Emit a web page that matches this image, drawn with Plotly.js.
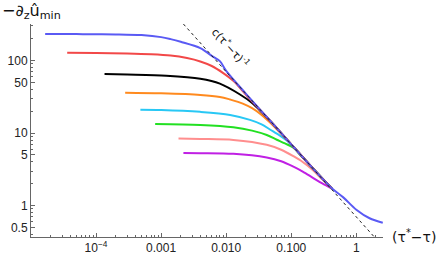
<!DOCTYPE html>
<html><head><meta charset="utf-8">
<script src="https://cdn.plot.ly/plotly-3.0.1.min.js"></script>
<style>html,body{margin:0;padding:0;background:#fff}#chart{width:436px;height:257px}</style>
</head><body><div id="chart"></div><script>
// data (x = tau* - tau, y = -d_z u_min)
const tauBlue=[1.65e-5,5e-5,1e-4,2e-4,5e-4,1e-3,1.4e-3,2e-3,4e-3,6e-3,8e-3,0.01,0.02,0.05,0.1,0.2,0.42,0.63,1.0,1.6,2.55];
const valBlue=[231,231,230,229,224,210,197,181,148,116,98,72,35,14,7,3.5,1.74,1.3,0.88,0.67,0.58];
const tauRed=[3.6e-5,1e-4,3e-4,7e-4,1.4e-3,2.5e-3,4e-3,6e-3,9e-3,0.013,0.02,0.03,0.05,0.1,0.2,0.42];
const valRed=[128,127,125,122,117,108,97,84,67,52,34,23,14,7,3.5,1.72];
const tauBlack=[1.35e-4,3e-4,1.2e-3,4e-3,8e-3,0.0163,0.025,0.035,0.05,0.1,0.2,0.42];
const valBlack=[65,64,61.6,56,48,34,26,19.5,14,7,3.5,1.72];
const tauOrange=[2.8e-4,1e-3,4e-3,8e-3,0.0115,0.018,0.025,0.035,0.045,0.06,0.08,0.1,0.2,0.42];
const valOrange=[36,35.3,33.6,31.5,29,25.5,22,17.8,14.6,11.3,8.7,7,3.5,1.72];
const tauCyan=[4.8e-4,1e-3,4e-3,0.0115,0.0232,0.035,0.047,0.067,0.085,0.1,0.2,0.42];
const valCyan=[21,20.8,19.6,17.8,15.2,13.2,11.2,9.2,7.9,6.9,3.5,1.72];
const tauGreen=[8.1e-4,4e-3,0.0129,0.025,0.042,0.06,0.08,0.108,0.135,0.2,0.42];
const valGreen=[13.3,12.9,12.0,10.8,9.4,8.1,7.2,6.3,5.1,3.5,1.72];
const tauSalmon=[1.85e-3,4e-3,0.0129,0.042,0.07,0.108,0.15,0.218,0.3,0.42];
const valSalmon=[8.4,8.3,8.05,6.9,5.9,4.8,4.0,3.05,2.3,1.72];
const tauPurple=[2.2e-3,4e-3,0.0129,0.042,0.07,0.108,0.15,0.218,0.3,0.42];
const valPurple=[5.3,5.28,5.17,4.6,4.1,3.45,2.95,2.4,2.02,1.72];
const tauAsym=[0.0022,2.3];
const valAsym=[318,0.304];
const xTickVals=[1e-4,1e-3,1e-2,1e-1,1];
const xTickText=['10<sup>−4</sup>','0.001','0.010','0.100','1'];
const yTickVals=[0.5,1,5,10,50,100];
const yTickText=['0.5','1','5','10','50','100'];

const colors={blue:'#5A5AF4',red:'#F24848',black:'#000000',orange:'#FF8A1E',cyan:'#28C8F5',green:'#22E022',salmon:'#FF8E8E',purple:'#C020E4'};
function ln(x,y,c){return {x:x,y:y,type:'scatter',mode:'lines',line:{color:c,width:2,shape:'spline',smoothing:0.9},hoverinfo:'skip'};}
const traces=[
 ln(tauPurple,valPurple,colors.purple),
 ln(tauSalmon,valSalmon,colors.salmon),
 ln(tauGreen,valGreen,colors.green),
 ln(tauCyan,valCyan,colors.cyan),
 ln(tauOrange,valOrange,colors.orange),
 ln(tauBlack,valBlack,colors.black),
 ln(tauRed,valRed,colors.red),
 ln(tauBlue,valBlue,colors.blue),
 {x:tauAsym,y:valAsym,type:'scatter',mode:'lines',line:{color:'#222',width:1,dash:'dot'},hoverinfo:'skip'}
];
function minorVals(lo,hi){const a=[];for(let e=lo;e<=hi;e++){for(let m=2;m<=9;m++)a.push(m*Math.pow(10,e));}return a;}
const tickFont={family:'Liberation Sans, Arial, sans-serif',size:12,color:'#222'};
const layout={
 width:436,height:257,showlegend:false,
 margin:{l:31,r:53,t:24,b:20},
 paper_bgcolor:'#fff',plot_bgcolor:'#fff',
 xaxis:{type:'log',range:[-5,0.41],showgrid:false,zeroline:false,showline:true,linecolor:'#666',linewidth:1,
  ticks:'inside',ticklen:4,tickcolor:'#666',tickvals:xTickVals,ticktext:xTickText,tickfont:tickFont,
  minor:{tickvals:minorVals(-5,0),ticklen:2,tickcolor:'#666',ticks:'inside',showgrid:false}},
 yaxis:{type:'log',range:[-0.432,2.503],showgrid:false,zeroline:false,showline:true,linecolor:'#666',linewidth:1,
  ticks:'inside',ticklen:4,tickcolor:'#666',tickvals:yTickVals,ticktext:yTickText,tickfont:tickFont,
  minor:{tickvals:minorVals(-1,2),ticklen:2,tickcolor:'#666',ticks:'inside',showgrid:false}},
 annotations:[
  {xref:'paper',yref:'paper',x:1,y:0,xanchor:'left',yanchor:'middle',xshift:7,yshift:1,showarrow:false,
   text:'(τ<sup>*</sup>−τ)',font:{family:'DejaVu Sans, sans-serif',size:14,color:'#111'}},
  {xref:'paper',yref:'paper',x:0,y:1,xanchor:'left',yanchor:'bottom',xshift:-31,yshift:0,showarrow:false,
   text:'−∂<sub>z</sub>û<sub>min</sub>',font:{family:'DejaVu Sans, sans-serif',size:16,color:'#111'}},
  {xref:'x',yref:'y',x:Math.log10(0.0075),y:Math.log10(160),xshift:12,yshift:-2,showarrow:false,textangle:48,
   text:'c(τ<sup>*</sup>−τ)<sup>-1</sup>',font:{family:'DejaVu Sans, sans-serif',size:11,color:'#111'}}
 ]
};
Plotly.newPlot('chart',traces,layout,{staticPlot:true,displayModeBar:false});
</script></body></html>
